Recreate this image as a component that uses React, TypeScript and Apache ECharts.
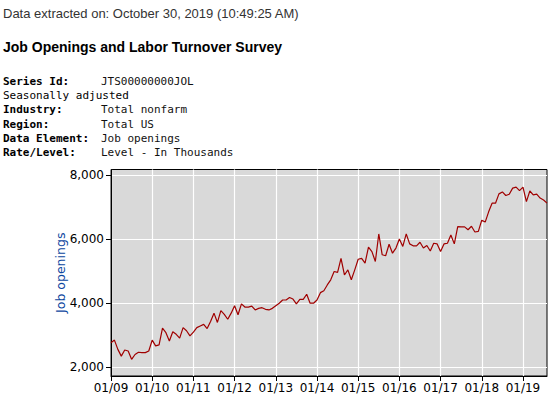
import React, { useEffect, useRef } from "react";
import * as echarts from "echarts";

const years = ["09", "10", "11", "12", "13", "14", "15", "16", "17", "18", "19"];
const monthNums = ["01", "02", "03", "04", "05", "06", "07", "08", "09", "10", "11", "12"];

const jo2009 = [2770, 2850, 2560, 2350, 2540, 2510, 2250, 2400, 2470, 2460, 2460, 2510];
const jo2010 = [2850, 2670, 2700, 3220, 3080, 2820, 3110, 3030, 2910, 3240, 3140, 2980];
const jo2011 = [3100, 3240, 3290, 3340, 3210, 3430, 3690, 3400, 3770, 3650, 3500, 3690];
const jo2012 = [3920, 3640, 3980, 3880, 3880, 3910, 3790, 3840, 3860, 3810, 3790, 3840];
const jo2013 = [3920, 4000, 4100, 4100, 4180, 4130, 3980, 4120, 4120, 4280, 4000, 4000];
const jo2014 = [4100, 4330, 4390, 4570, 4730, 4990, 4960, 5400, 4880, 5040, 4730, 5040];
const jo2015 = [5370, 5400, 5250, 5750, 5610, 5300, 6160, 5510, 5480, 5840, 5560, 5720];
const jo2016 = [6000, 5770, 6160, 5850, 5790, 5790, 5900, 5720, 5800, 5630, 5870, 5850];
const jo2017 = [5610, 5850, 5870, 6130, 5850, 6390, 6380, 6380, 6290, 6400, 6220, 6240];
const jo2018 = [6590, 6530, 6850, 7120, 7120, 7410, 7470, 7360, 7400, 7590, 7620, 7510];
const jo2019 = [7620, 7170, 7500, 7380, 7400, 7280, 7220, 7120];

const yTicks = [2000, 4000, 6000, 8000];

const headerLine = "Data extracted on: October 30, 2019 (10:49:25 AM)";
const titleText = "Job Openings and Labor Turnover Survey";
const metaRows: [string, string][] = [
  ["Series Id:", "JTS00000000JOL"],
  ["Seasonally adjusted", ""],
  ["Industry:", "Total nonfarm"],
  ["Region:", "Total US"],
  ["Data Element:", "Job openings"],
  ["Rate/Level:", "Level - In Thousands"],
];

const values = [
  ...jo2009, ...jo2010, ...jo2011, ...jo2012, ...jo2013, ...jo2014,
  ...jo2015, ...jo2016, ...jo2017, ...jo2018, ...jo2019,
];
const categories: string[] = [];
years.forEach((y) => monthNums.forEach((m) => categories.push(m + "/" + y)));
categories.length = values.length;

export default function App() {
  const ref = useRef<HTMLDivElement>(null);
  useEffect(() => {
    if (!ref.current) return;
    const chart = echarts.init(ref.current, null, { renderer: "svg" });
    const mono = '"DejaVu Sans Mono", "Liberation Mono", monospace';
    const graphics: any[] = [
      {
        type: "text",
        style: { text: headerLine, x: 3, y: 13, fill: "#333", font: '13px "Liberation Sans", Arial, sans-serif', align: "left", verticalAlign: "middle" },
      },
      {
        type: "text",
        style: { text: titleText, x: 3, y: 47, fill: "#000", font: 'bold 14px "Liberation Sans", Arial, sans-serif', align: "left", verticalAlign: "middle" },
      },
    ];
    metaRows.forEach((row, i) => {
      const y = 81.5 + i * 14.2;
      const isLabel = row[1] !== "";
      graphics.push({
        type: "text",
        style: { text: row[0], x: 3, y, fill: "#000", font: (isLabel ? "bold " : "") + "11px " + mono, align: "left", verticalAlign: "middle" },
      });
      if (row[1]) {
        graphics.push({
          type: "text",
          style: { text: row[1], x: 101, y, fill: "#111", font: "11px " + mono, align: "left", verticalAlign: "middle" },
        });
      }
    });
    const jan = (idx: number) => idx % 12 === 0;
    chart.setOption({
      animation: false,
      graphic: graphics,
      grid: {
        left: 111, top: 169.5, right: 12, bottom: 23,
        show: true, backgroundColor: "#d9d9d9", borderColor: "#000", borderWidth: 1,
      },
      xAxis: {
        type: "category",
        data: categories,
        boundaryGap: false,
        axisLine: { show: true, lineStyle: { color: "#000", width: 1 } },
        axisTick: { show: true, interval: (i: number) => jan(i), length: 5, lineStyle: { color: "#000" } },
        axisLabel: { interval: (i: number) => jan(i), margin: 6, color: "#000", fontSize: 12, fontFamily: '"DejaVu Sans", Verdana, sans-serif' },
        splitLine: { show: true, interval: (i: number) => jan(i), lineStyle: { color: "#fff", width: 1.2 } },
      },
      yAxis: {
        type: "value",
        min: 1730,
        max: 8170,
        name: "Job openings",
        nameLocation: "middle",
        nameGap: 44,
        nameMoveOverlap: false,
        nameTextStyle: { color: "#0d46a0", fontSize: 12.5, fontFamily: '"DejaVu Sans", Verdana, sans-serif' },
        axisLine: { show: true, lineStyle: { color: "#000", width: 1 } },
        axisTick: { show: true, customValues: yTicks, length: 5, lineStyle: { color: "#000" } },
        axisLabel: {
          customValues: yTicks,
          margin: 7,
          color: "#000",
          fontSize: 12,
          fontFamily: '"DejaVu Sans", Verdana, sans-serif',
          formatter: (v: number) => v.toLocaleString("en-US"),
        },
        splitLine: { show: true, lineStyle: { color: "#fff", width: 1.2 } },
      },
      series: [
        {
          type: "line",
          data: values,
          symbol: "none",
          lineStyle: { color: "#a00000", width: 1.2 },
        },
      ],
    });
    return () => chart.dispose();
  }, []);
  return <div ref={ref} style={{ position: "absolute", left: 0, top: 0, width: 559, height: 399 }} />;
}
